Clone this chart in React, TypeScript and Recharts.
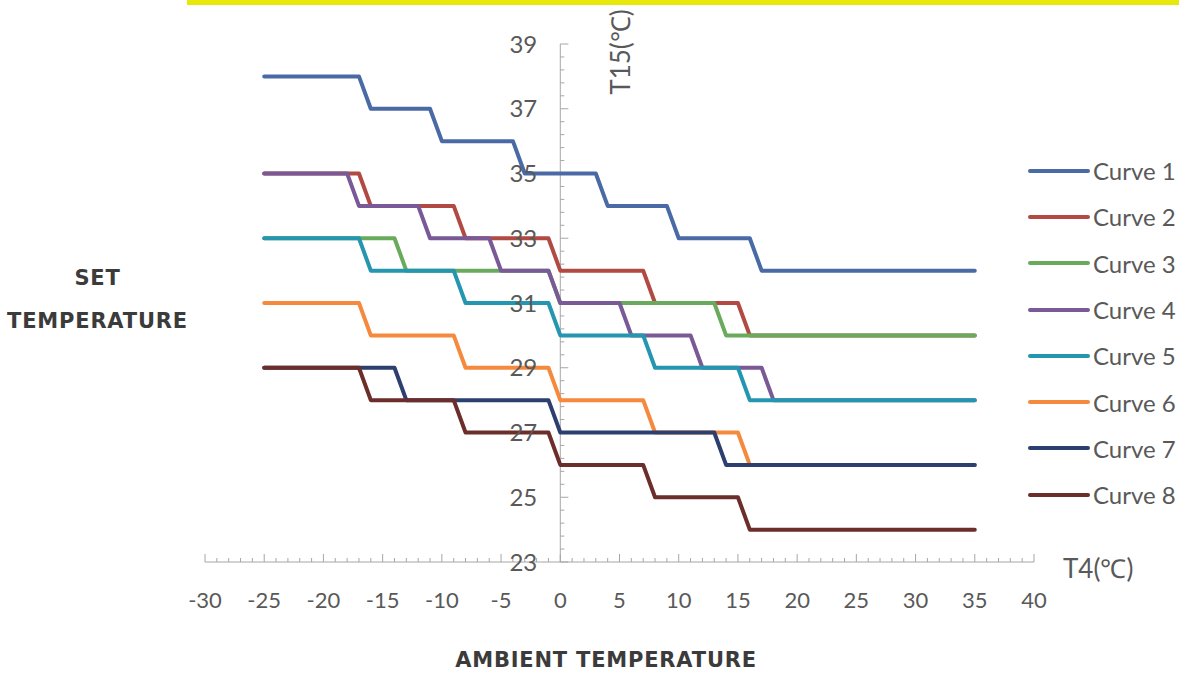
import { Line, LineChart, ReferenceDot, ReferenceLine, XAxis, YAxis } from "recharts";

interface Pt {
  t4: number;
  t15: number;
}

const curve1: Pt[] = [
  { t4: -25, t15: 38 }, { t4: -17, t15: 38 }, { t4: -16, t15: 37 }, { t4: -11, t15: 37 },
  { t4: -10, t15: 36 }, { t4: -4, t15: 36 }, { t4: -3, t15: 35 }, { t4: 3, t15: 35 },
  { t4: 4, t15: 34 }, { t4: 9, t15: 34 }, { t4: 10, t15: 33 }, { t4: 16, t15: 33 },
  { t4: 17, t15: 32 }, { t4: 35, t15: 32 },
];
const curve2: Pt[] = [
  { t4: -25, t15: 35 }, { t4: -17, t15: 35 }, { t4: -16, t15: 34 }, { t4: -9, t15: 34 },
  { t4: -8, t15: 33 }, { t4: -1, t15: 33 }, { t4: 0, t15: 32 }, { t4: 7, t15: 32 },
  { t4: 8, t15: 31 }, { t4: 15, t15: 31 }, { t4: 16, t15: 30 }, { t4: 35, t15: 30 },
];
const curve3: Pt[] = [
  { t4: -25, t15: 33 }, { t4: -14, t15: 33 }, { t4: -13, t15: 32 }, { t4: -1, t15: 32 },
  { t4: 0, t15: 31 }, { t4: 13, t15: 31 }, { t4: 14, t15: 30 }, { t4: 35, t15: 30 },
];
const curve4: Pt[] = [
  { t4: -25, t15: 35 }, { t4: -18, t15: 35 }, { t4: -17, t15: 34 }, { t4: -12, t15: 34 },
  { t4: -11, t15: 33 }, { t4: -6, t15: 33 }, { t4: -5, t15: 32 }, { t4: -1, t15: 32 },
  { t4: 0, t15: 31 }, { t4: 5, t15: 31 }, { t4: 6, t15: 30 }, { t4: 11, t15: 30 },
  { t4: 12, t15: 29 }, { t4: 17, t15: 29 }, { t4: 18, t15: 28 }, { t4: 35, t15: 28 },
];
const curve5: Pt[] = [
  { t4: -25, t15: 33 }, { t4: -17, t15: 33 }, { t4: -16, t15: 32 }, { t4: -9, t15: 32 },
  { t4: -8, t15: 31 }, { t4: -1, t15: 31 }, { t4: 0, t15: 30 }, { t4: 7, t15: 30 },
  { t4: 8, t15: 29 }, { t4: 15, t15: 29 }, { t4: 16, t15: 28 }, { t4: 35, t15: 28 },
];
const curve6: Pt[] = [
  { t4: -25, t15: 31 }, { t4: -17, t15: 31 }, { t4: -16, t15: 30 }, { t4: -9, t15: 30 },
  { t4: -8, t15: 29 }, { t4: -1, t15: 29 }, { t4: 0, t15: 28 }, { t4: 7, t15: 28 },
  { t4: 8, t15: 27 }, { t4: 15, t15: 27 }, { t4: 16, t15: 26 }, { t4: 35, t15: 26 },
];
const curve7: Pt[] = [
  { t4: -25, t15: 29 }, { t4: -14, t15: 29 }, { t4: -13, t15: 28 }, { t4: -1, t15: 28 },
  { t4: 0, t15: 27 }, { t4: 13, t15: 27 }, { t4: 14, t15: 26 }, { t4: 35, t15: 26 },
];
const curve8: Pt[] = [
  { t4: -25, t15: 29 }, { t4: -17, t15: 29 }, { t4: -16, t15: 28 }, { t4: -9, t15: 28 },
  { t4: -8, t15: 27 }, { t4: -1, t15: 27 }, { t4: 0, t15: 26 }, { t4: 7, t15: 26 },
  { t4: 8, t15: 25 }, { t4: 15, t15: 25 }, { t4: 16, t15: 24 }, { t4: 35, t15: 24 },
];

const seriesNames = ["Curve 1", "Curve 2", "Curve 3", "Curve 4", "Curve 5", "Curve 6", "Curve 7", "Curve 8"];
const seriesColors = ["#4a6aa6", "#b04a42", "#6aaa5d", "#7a5a96", "#2596b0", "#f5893e", "#2d3f6e", "#6b2e2a"];
const seriesData = [curve1, curve2, curve3, curve4, curve5, curve6, curve7, curve8];

const xTicks = Array.from({ length: 71 }, (_, i) => i - 30);
const yLabels = [23, 25, 27, 29, 31, 33, 35, 37, 39];
const yMinor = Array.from({ length: 41 }, (_, i) => 23 + i * 0.4);

const AXIS = "#a6a6a6";
const TEXT = "#595959";
const FONT = "Lato, 'Open Sans', sans-serif";

function XTick(props: any) {
  const { x, y, payload } = props;
  const major = payload.value % 5 === 0;
  return (
    <g>
      <line x1={x} x2={x} y1={y} y2={y - (major ? 8 : 4)} stroke={AXIS} />
      {major && (
        <text x={x} y={y + 46} textAnchor="middle" fill={TEXT} fontSize={22} fontFamily={FONT}>
          {String(payload.value)}
        </text>
      )}
    </g>
  );
}

function T4Label(props: any) {
  const { viewBox } = props;
  return (
    <text x={viewBox.x + viewBox.width + 29} y={viewBox.y + 16} fill={TEXT} fontSize={26} fontFamily={FONT}>
      T4(℃)
    </text>
  );
}

function T15Label(props: any) {
  const { viewBox } = props;
  const cx = viewBox.x + 60;
  const cy = viewBox.y + 8;
  return (
    <text
      x={cx}
      y={cy}
      transform={`rotate(-90 ${cx} ${cy})`}
      textAnchor="middle"
      dominantBaseline="central"
      fill={TEXT}
      fontSize={26}
      fontFamily={FONT}
    >
      T15(℃)
    </text>
  );
}

const titleStyle = {
  position: "absolute" as const,
  fontFamily: "'DejaVu Sans', sans-serif",
  fontWeight: 700,
  fontSize: 21,
  letterSpacing: 0.8,
  color: "#3b3b3b",
  textAlign: "center" as const,
};

export default function App() {
  return (
    <div style={{ position: "absolute", left: 0, top: 0, width: 1179, height: 675, background: "#fff", overflow: "hidden" }}>
      <div style={{ position: "absolute", left: 187, top: 0, width: 992, height: 5, background: "#e8e80a" }} />
      <LineChart width={1179} height={675} margin={{ top: 44, right: 145, left: 205, bottom: 73 }}>
        <XAxis
          dataKey="t4"
          type="number"
          domain={[-30, 40]}
          ticks={xTicks}
          interval={0}
          tickLine={false}
          tickSize={0}
          tickMargin={0}
          height={40}
          axisLine={{ stroke: AXIS }}
          tick={<XTick />}
          allowDataOverflow
          label={<T4Label />}
        />
        <YAxis hide type="number" domain={[23, 39]} allowDataOverflow />
        <ReferenceLine x={0} stroke={AXIS} label={<T15Label />} />
        {yMinor.map((v, i) => (
          <ReferenceLine
            key={`yt${i}`}
            stroke={AXIS}
            segment={[{ x: 0, y: v }, { x: i % 5 === 0 ? 0.68 : 0.34, y: v }]}
          />
        ))}
        {yLabels.map((v) => (
          <ReferenceDot
            key={`yl${v}`}
            x={0}
            y={v}
            r={0}
            fill="none"
            stroke="none"
            label={{ value: v, position: "left", offset: 23, fill: TEXT, fontSize: 24, fontFamily: FONT }}
          />
        ))}
        {seriesData.map((d, i) => (
          <Line
            key={seriesNames[i]}
            data={d}
            dataKey="t15"
            name={seriesNames[i]}
            type="linear"
            stroke={seriesColors[i]}
            strokeWidth={4}
            strokeLinecap="round"
            strokeLinejoin="round"
            dot={false}
            activeDot={false}
            isAnimationActive={false}
          />
        ))}
      </LineChart>
      <div style={{ position: "absolute", left: 1028, top: 147.5 }}>
        {seriesNames.map((n, i) => (
          <div key={n} style={{ display: "flex", alignItems: "center", height: 46.3 }}>
            <div style={{ width: 62, height: 4, borderRadius: 2, background: seriesColors[i] }} />
            <span style={{ marginLeft: 3, fontFamily: FONT, fontSize: 24, color: TEXT, whiteSpace: "nowrap" }}>{n}</span>
          </div>
        ))}
      </div>
      <div style={{ ...titleStyle, left: 0, top: 257, width: 195, lineHeight: "43px" }}>
        SET
        <br />
        TEMPERATURE
      </div>
      <div style={{ ...titleStyle, left: 306, top: 645, width: 600, lineHeight: "30px" }}>AMBIENT TEMPERATURE</div>
    </div>
  );
}
